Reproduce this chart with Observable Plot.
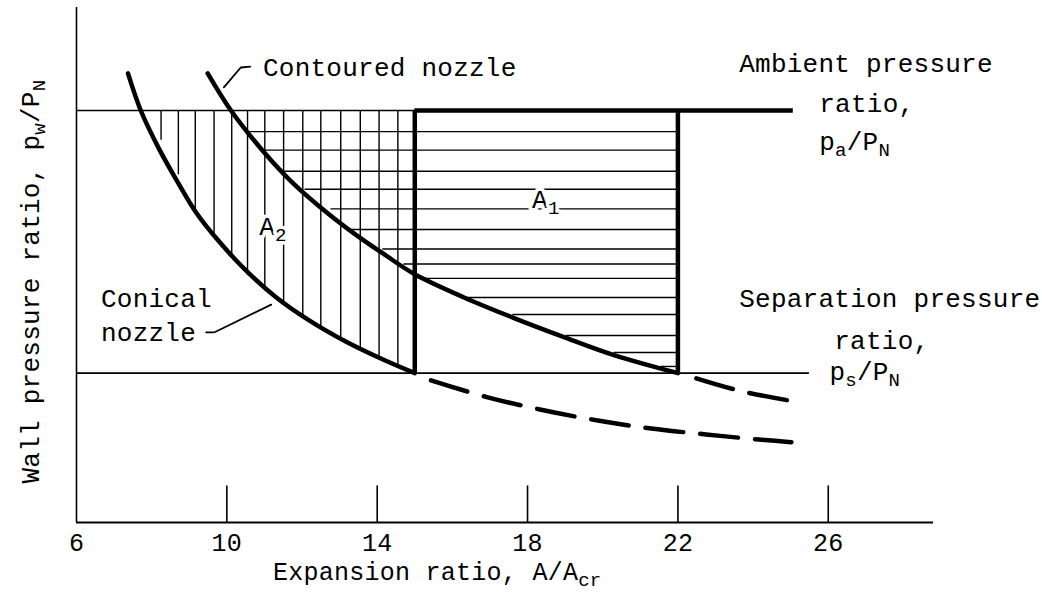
<!DOCTYPE html>
<html><head><meta charset="utf-8">
<script src="https://cdn.jsdelivr.net/npm/d3@7"></script>
<script src="https://cdn.jsdelivr.net/npm/@observablehq/plot@0.6"></script>
<style>
html,body{margin:0;padding:0;background:#fff;}
</style>
</head><body>
<div id="chart"></div>
<script>
// ---- data (x = expansion ratio, y = relative wall pressure, arbitrary units) ----
const xTicks = [6, 10, 14, 18, 22, 26];
const ambient = 80;       // ambient pressure ratio level
const separation = 29;    // separation pressure ratio level

const conicalX = [7.37, 7.71, 8.2, 8.7, 9.2, 9.8, 10.5, 11.3, 12.2, 13.2, 14.2, 15.0];
const conicalY = [87.2, 80.0, 72.5, 66.0, 60.0, 54.5, 49.0, 43.8, 39.2, 35.0, 31.5, 29.0];
const conicalDashX = [15.43, 16.94, 18.36, 19.87, 21.29, 22.75, 24.16, 25.02];
const conicalDashY = [27.6, 24.3, 21.9, 19.8, 18.25, 17.1, 16.1, 15.6];

const contouredX = [9.49, 10.11, 11.0, 11.8, 12.69, 13.5, 14.2, 15.0, 16.31, 17.64, 18.97, 20.3, 22.0];
const contouredY = [87.2, 80.0, 71.8, 65.6, 60.0, 55.5, 52.0, 48.2, 43.7, 39.7, 36.0, 32.5, 29.0];
const contouredDashX = [22.49, 23.69, 25.1];
const contouredDashY = [28.0, 25.5, 23.5];

// hatching of area A2 (vertical) and A1 (horizontal)
const hatchVX = [8.25, 8.71, 9.16, 9.66, 10.13, 10.55, 11.01, 11.51, 12.02, 12.50, 13.03, 13.55, 14.05, 14.55];
const hatchVBottom = [74.2, 67.5, 60.0, 55.5, 51.3, 48.0, 45.0, 42.5, 40.2, 37.9, 35.7, 34.0, 32.0, 30.5];
const hatchHY = [75.9, 72.3, 68.2, 64.7, 60.9, 56.9, 53.1, 50.2, 47.4, 43.7, 40.4, 36.3, 33.0, 30.3];
const hatchHLeft = [10.59, 10.99, 11.49, 12.08, 12.77, 13.30, 14.15, 14.71, 15.24, 16.36, 17.61, 19.03, 20.30, 21.55];

const rectX = [15, 22];
const ambientEnd = 25.07;
const separationEnd = 25.5;

// leaders
const contouredLeaderX = [9.92, 10.37, 10.62];
const contouredLeaderY = [84.5, 88.35, 88.5];
const conicalLeaderX = [9.45, 9.66, 11.18];
const conicalLeaderY = [36.9, 36.9, 42.3];

// annotations
const annotations = [
  {text: "Contoured nozzle", x: 10.96, y: 88.35},
  {text: "Conical", x: 6.65, y: 43.5},
  {text: "nozzle", x: 6.65, y: 36.9},
  {text: "Ambient pressure", x: 23.63, y: 89.1},
  {text: "ratio,", x: 25.76, y: 81.4},
  {text: "p_a/P_N", x: 25.76, y: 74.0},
  {text: "Separation pressure", x: 23.63, y: 43.5},
  {text: "ratio,", x: 26.16, y: 35.3},
  {text: "p_s/P_N", x: 26.03, y: 29.2}
];
const areaLabels = [
  {text: "A_1", x: 18.12, y: 62.7},
  {text: "A_2", x: 10.86, y: 57.5}
];
const xTitle = "Expansion ratio, A/A_cr";
const yTitle = "Wall pressure ratio, p_w/P_N";

// ---- chart ----
const FS = 26;
const pts = (xs, ys) => xs.map((x, i) => ({x, y: ys[i]}));

const svg = Plot.plot({
  width: 1042,
  height: 593,
  marginLeft: 76,
  marginRight: 109,
  marginTop: 7,
  marginBottom: 71,
  style: "font-family: 'Liberation Mono', monospace; letter-spacing: 0.25px; background: #fff; color: #000;",
  x: {domain: [6, 28.8], axis: null},
  y: {domain: [0, 100], axis: null},
  marks: [
    // axes
    Plot.ruleX([6], {y1: 0, y2: 100, strokeWidth: 1.6}),
    Plot.ruleY([0], {x1: 6, x2: 28.8, strokeWidth: 2.2}),
    Plot.ruleX(xTicks.slice(1), {y1: 0, y2: 7.1, strokeWidth: 1.6}),
    Plot.axisX({ticks: xTicks, tickSize: 0, tickPadding: 11, fontSize: 25, label: null, tickFormat: d => String(d)}),
    // reference levels
    Plot.ruleY([ambient], {x1: 6, x2: 15, strokeWidth: 1.6}),
    Plot.ruleY([ambient], {x1: 15, x2: ambientEnd, strokeWidth: 4.5}),
    Plot.ruleY([separation], {x1: 6, x2: separationEnd, strokeWidth: 1.6}),
    // hatching
    Plot.ruleX(hatchVX, {x: d => d, y1: ambient, y2: (d, i) => hatchVBottom[i], strokeWidth: 1.4}),
    Plot.ruleY(hatchHY, {y: d => d, x1: (d, i) => hatchHLeft[i], x2: 22, strokeWidth: 1.4}),
    // A1 boundary verticals
    Plot.ruleX(rectX, {y1: separation, y2: ambient, strokeWidth: 4.5}),
    // nozzle curves
    Plot.line(pts(conicalX, conicalY), {x: "x", y: "y", curve: "catmull-rom", strokeWidth: 4.5}),
    Plot.line(pts(contouredX, contouredY), {x: "x", y: "y", curve: "catmull-rom", strokeWidth: 4.5}),
    Plot.line(pts(conicalDashX, conicalDashY), {x: "x", y: "y", curve: "catmull-rom", strokeWidth: 4.5, strokeDasharray: "38,17"}),
    Plot.line(pts(contouredDashX, contouredDashY), {x: "x", y: "y", curve: "catmull-rom", strokeWidth: 4.5, strokeDasharray: "38,17"}),
    // leaders
    Plot.line(pts(contouredLeaderX, contouredLeaderY), {x: "x", y: "y", strokeWidth: 1.8}),
    Plot.line(pts(conicalLeaderX, conicalLeaderY), {x: "x", y: "y", strokeWidth: 1.8}),
    // labels
    Plot.text(annotations, {x: "x", y: "y", text: "text", textAnchor: "start", fontSize: FS, fill: "black"}),
    Plot.text(areaLabels, {x: "x", y: "y", text: "text", textAnchor: "start", fontSize: FS, fill: "black", stroke: "white", strokeWidth: 7}),
    Plot.text([xTitle], {x: 11.23, y: -9.6, text: d => d, textAnchor: "start", fontSize: 25, fill: "black"}),
    Plot.text([yTitle], {x: 4.78, y: 7.57, text: d => d, textAnchor: "start", rotate: -90, fontSize: FS, fill: "black"})
  ]
});

// subscripts: "_xx" -> lowered smaller tspan
const NS = "http://www.w3.org/2000/svg";
svg.querySelectorAll("text").forEach(t => {
  if (t.querySelector("tspan")) return;
  const s = t.textContent;
  if (!s.includes("_")) return;
  t.textContent = "";
  const parts = s.split(/_(\w+)/);
  let shifted = false;
  parts.forEach((p, i) => {
    if (!p) return;
    const ts = document.createElementNS(NS, "tspan");
    ts.textContent = p;
    const isSub = i % 2 === 1;
    if (isSub && !shifted) { ts.setAttribute("dy", "6"); shifted = true; }
    if (!isSub && shifted) { ts.setAttribute("dy", "-6"); shifted = false; }
    if (isSub) ts.setAttribute("font-size", "19");
    t.appendChild(ts);
  });
});

document.getElementById("chart").appendChild(svg);
</script>
</body></html>
